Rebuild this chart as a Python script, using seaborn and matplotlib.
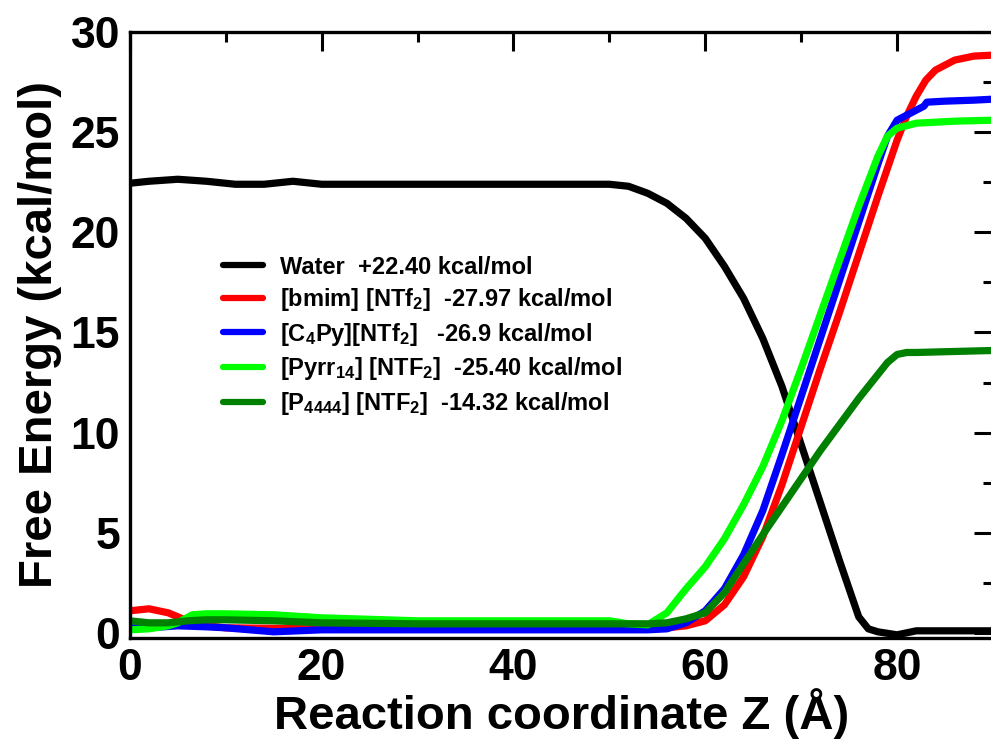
import numpy as np
import pandas as pd
import matplotlib
matplotlib.use("Agg")
import matplotlib.pyplot as plt
import seaborn as sns
from matplotlib.ticker import MultipleLocator

# ---------------- data ----------------
water_x = [0, 2, 5, 8, 11, 14, 17, 20, 25, 30, 40, 50, 52, 54, 56, 58, 60, 62, 64, 66,
           68, 70, 72, 74, 76, 77, 78, 80, 82, 86, 90]
water_y = [22.45, 22.55, 22.65, 22.55, 22.4, 22.4, 22.55, 22.4, 22.4, 22.4, 22.4, 22.4,
           22.3, 21.95, 21.45, 20.7, 19.7, 18.3, 16.7, 14.7, 12.3, 9.4, 6.5, 3.6, 0.8,
           0.2, 0.05, -0.1, 0.1, 0.1, 0.1]

bmim_x = [0, 2, 4, 6, 8, 10, 20, 30, 40, 50, 54, 56, 58, 60, 62, 64, 66, 68, 70, 72, 74,
          76, 78, 80, 81, 82, 83, 84, 86, 88, 90]
bmim_y = [1.1, 1.2, 1.0, 0.6, 0.35, 0.25, 0.2, 0.2, 0.2, 0.2, 0.2, 0.25, 0.35, 0.6, 1.4,
          2.8, 4.8, 7.4, 10.3, 13.2, 16.0, 18.9, 21.8, 24.6, 25.8, 26.8, 27.6, 28.1, 28.6,
          28.8, 28.85]

c4py_x = [0, 2, 5, 8, 10, 15, 20, 30, 40, 50, 54, 56, 58, 60, 62, 64, 66, 68, 70, 72,
          74, 76, 78, 79, 80, 81.6, 82.8, 83.1, 85, 88, 90]
c4py_y = [0.25, 0.25, 0.35, 0.3, 0.25, 0.05, 0.15, 0.15, 0.15, 0.15, 0.15, 0.2, 0.5, 1.1,
          2.2, 3.9, 6.1, 8.9, 11.8, 14.7, 17.6, 20.5, 23.4, 24.8, 25.6, 26.0, 26.3, 26.5,
          26.55, 26.6, 26.65]

pyrr_x = [0, 2, 4, 5, 6.5, 8, 10, 15, 20, 30, 40, 50, 52, 54, 56, 57, 58, 60, 62, 64, 66,
          68, 70, 72, 74, 76, 78, 79, 80, 82, 86, 90]
pyrr_y = [0.15, 0.2, 0.35, 0.5, 0.9, 0.95, 0.95, 0.9, 0.75, 0.6, 0.6, 0.6, 0.45, 0.4,
          1.0, 1.6, 2.2, 3.3, 4.7, 6.4, 8.3, 10.6, 13.2, 15.9, 18.6, 21.3, 23.8, 24.8, 25.2,
          25.45, 25.55, 25.6]

p4444_x = [0, 2, 4, 6, 8, 10, 15, 20, 30, 40, 50, 54, 56, 58, 60, 62, 64, 66, 68, 70, 72,
           74, 76, 78, 79, 80, 81, 82, 86, 90]
p4444_y = [0.6, 0.5, 0.5, 0.6, 0.65, 0.65, 0.6, 0.5, 0.45, 0.45, 0.45, 0.45, 0.5, 0.7,
           1.0, 2.0, 3.45, 4.9, 6.3, 7.7, 9.1, 10.4, 11.7, 12.9, 13.5, 13.9, 14.0, 14.0,
           14.05, 14.1]

labels = [
    r"Water  +22.40 kcal/mol",
    r"[bmim] [NTf$_{2}$]  -27.97 kcal/mol",
    r"[C$_{4}$Py][NTf$_{2}$]   -26.9 kcal/mol",
    r"[Pyrr$_{14}$] [NTF$_{2}$]  -25.40 kcal/mol",
    r"[P$_{4444}$] [NTF$_{2}$]  -14.32 kcal/mol",
]
colors = ["#000000", "#ff0000", "#0000ff", "#00ff00", "#008000"]

xs = [water_x, bmim_x, c4py_x, pyrr_x, p4444_x]
ys = [water_y, bmim_y, c4py_y, pyrr_y, p4444_y]
df = pd.concat(
    [pd.DataFrame({"Z": x, "G": y, "system": lab}) for x, y, lab in zip(xs, ys, labels)],
    ignore_index=True,
)

# ---------------- style ----------------
sns.set_theme(style="white")
plt.rcParams["font.family"] = ["Liberation Sans", "DejaVu Sans"]
plt.rcParams["font.weight"] = "bold"
plt.rcParams["text.color"] = "black"
plt.rcParams["axes.labelcolor"] = "black"
plt.rcParams["xtick.color"] = "black"
plt.rcParams["ytick.color"] = "black"
plt.rcParams["mathtext.fontset"] = "custom"
plt.rcParams["mathtext.rm"] = "Liberation Sans:bold"
plt.rcParams["mathtext.it"] = "Liberation Sans:bold"
plt.rcParams["mathtext.bf"] = "Liberation Sans:bold"
plt.rcParams["mathtext.default"] = "rm"

fig = plt.figure(figsize=(9.91, 7.46), dpi=100)
ax = fig.add_axes([0.131, 0.145, 0.871, 0.812])

sns.lineplot(data=df, x="Z", y="G", hue="system", palette=colors, hue_order=labels,
             sort=False, estimator=None, linewidth=5.2, ax=ax,
             solid_capstyle="round", solid_joinstyle="round")

ax.set_xlim(0, 90)
ax.set_ylim(-0.25, 30.0)
ax.xaxis.set_major_locator(MultipleLocator(20))
ax.xaxis.set_minor_locator(MultipleLocator(10))
ax.yaxis.set_major_locator(MultipleLocator(5))
ax.yaxis.set_minor_locator(MultipleLocator(2.5))
ax.tick_params(which="both", direction="in", top=True, right=True, width=2.2,
               colors="black")
ax.tick_params(which="major", length=13.5, labelsize=32, pad=7)
ax.tick_params(which="minor", length=7)
for lab in ax.get_xticklabels() + ax.get_yticklabels():
    lab.set_fontweight("bold")
    lab.set_color("black")
for s in ax.spines.values():
    s.set_linewidth(2.4)
    s.set_color("black")

ax.set_xlabel("Reaction coordinate Z (Å)", fontsize=34, fontweight="bold", labelpad=0,
              color="black")
ax.set_ylabel("Free Energy (kcal/mol)", fontsize=34, fontweight="bold", labelpad=6,
              color="black")

leg = ax.legend(loc="upper left", bbox_to_anchor=(0.108, 0.631), frameon=False,
                fontsize=17, handlelength=1.7, handletextpad=0.7, labelspacing=0.32,
                borderaxespad=0, borderpad=0)
for line in leg.get_lines():
    line.set_linewidth(4.5)
for t in leg.get_texts():
    t.set_fontweight("bold")
    t.set_color("black")

fig.savefig("out.png", dpi=100)
